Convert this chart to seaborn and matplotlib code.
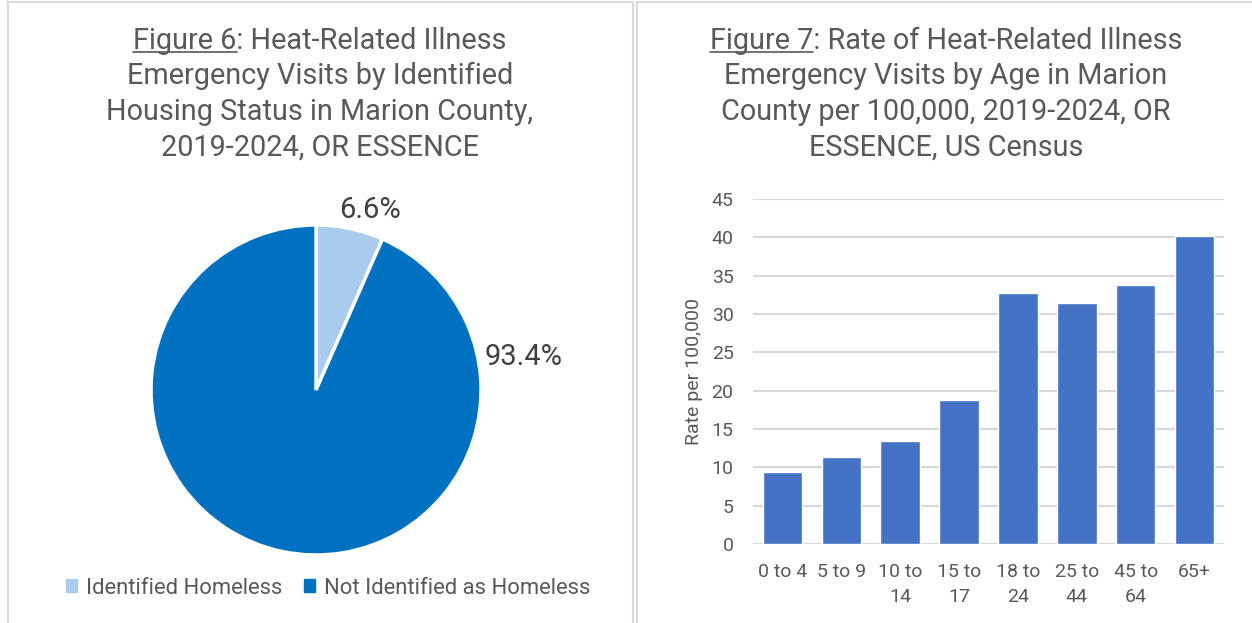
import matplotlib
matplotlib.use('Agg')
import matplotlib.pyplot as plt
import seaborn as sns
import pandas as pd
from matplotlib.patches import Rectangle
from matplotlib.lines import Line2D

# Figure 6 data
housing_labels = ['Identified Homeless', 'Not Identified as Homeless']
housing_pct = [6.6, 93.4]
housing_colors = ['#A9CCEC', '#0070C0']

# Figure 7 data
age_groups = ['0 to 4', '5 to 9', '10 to\n14', '15 to\n17', '18 to\n24', '25 to\n44', '45 to\n64', '65+']
age_rates = [9.4, 11.3, 13.4, 18.8, 32.7, 31.4, 33.8, 40.2]

title6 = ['Figure 6: Heat-Related Illness', 'Emergency Visits by Identified',
          'Housing Status in Marion County,', '2019-2024, OR ESSENCE']
title7 = ['Figure 7: Rate of Heat-Related Illness', 'Emergency Visits by Age in Marion',
          'County per 100,000, 2019-2024, OR', 'ESSENCE, US Census']

TXT = '#595959'
W, H = 1252, 623

sns.set_theme(style='white')
plt.rcParams['font.family'] = ['Roboto', 'DejaVu Sans']

fig = plt.figure(figsize=(W / 100, H / 100), dpi=100)

# panel borders
fig.patches.append(Rectangle((8 / W, -0.01), 625 / W, 1 - 2 / H + 0.01, transform=fig.transFigure,
                             fill=False, edgecolor='#D9D9D9', linewidth=1.5))
fig.patches.append(Rectangle((637 / W, -0.01), 620 / W, 1 - 2 / H + 0.01, transform=fig.transFigure,
                             fill=False, edgecolor='#D9D9D9', linewidth=1.5))

TSIZE = 20.8


def draw_title(lines, cx, prefix):
    ys = [41, 76, 112, 148]
    fig.canvas.draw()
    r = fig.canvas.get_renderer()
    for k, (line, y) in enumerate(zip(lines, ys)):
        t = fig.text(cx / W, 1 - y / H, line, ha='center', va='center', fontsize=TSIZE, color=TXT)
        if k == 0:
            # underline the "Figure N" part
            bb = t.get_window_extent(renderer=r)
            tmp = fig.text(0, 0, prefix, fontsize=TSIZE)
            pw = tmp.get_window_extent(renderer=r).width
            tmp.remove()
            x0 = bb.x0 / W
            x1 = (bb.x0 + pw) / W
            yl = (bb.y0 + 3) / H
            fig.add_artist(Line2D([x0, x1], [yl, yl], color=TXT, linewidth=1.2,
                                  transform=fig.transFigure))


# pie chart
cx, cy, rad = 316, 390, 165
ax1 = fig.add_axes([(cx - rad) / W, 1 - (cy + rad) / H, 2 * rad / W, 2 * rad / H])
wedges, texts, autotexts = ax1.pie(housing_pct, colors=housing_colors, startangle=90, counterclock=False,
                                   autopct='%.1f%%', pctdistance=1.14,
                                   wedgeprops=dict(edgecolor='white', linewidth=2.5))
for t in autotexts:
    t.set_fontsize(21)
    t.set_color('#404040')
autotexts[0].set_position((0.33, 1.09))
autotexts[1].set_position((1.26, 0.2))
ax1.set_xlim(-1, 1)
ax1.set_ylim(-1, 1)
ax1.set_aspect('equal')
ax1.axis('off')
for w in wedges:
    w.set_clip_on(False)

handles = [Rectangle((0, 0), 1, 1, color=c) for c in housing_colors]
fig.legend(handles, housing_labels, loc='center', bbox_to_anchor=(328 / W, 1 - 588 / H), ncol=2,
           frameon=False, fontsize=15.8, labelcolor=TXT, handlelength=0.5, handleheight=0.5,
           handletextpad=0.4, columnspacing=1.0)

# bar chart
ax2 = fig.add_axes([753 / W, 1 - 544 / H, 471 / W, 345 / H])
df = pd.DataFrame({'age': age_groups, 'rate': age_rates})
sns.barplot(data=df, x='age', y='rate', color='#4472C4', saturation=1, width=0.67, ax=ax2, zorder=3)
ax2.set_ylim(0, 45)
ax2.set_xlim(-0.5, 7.5)
ax2.set_yticks(range(0, 50, 5))
ax2.grid(axis='y', color='#D9D9D9', linewidth=1.5, zorder=0)
ax2.set_axisbelow(True)
for s in ax2.spines.values():
    s.set_visible(False)
ax2.tick_params(axis='both', length=0, labelsize=14, colors=TXT)
ax2.tick_params(axis='x', pad=14)
ax2.tick_params(axis='y', pad=14)
for lab in ax2.get_xticklabels():
    lab.set_linespacing(1.5)
ax2.set_xlabel('')
ax2.set_ylabel('Rate per 100,000', fontsize=14, color=TXT, labelpad=6)

draw_title(title6, 320, 'Figure 6')
draw_title(title7, 946, 'Figure 7')

fig.savefig('out.png', dpi=100)
